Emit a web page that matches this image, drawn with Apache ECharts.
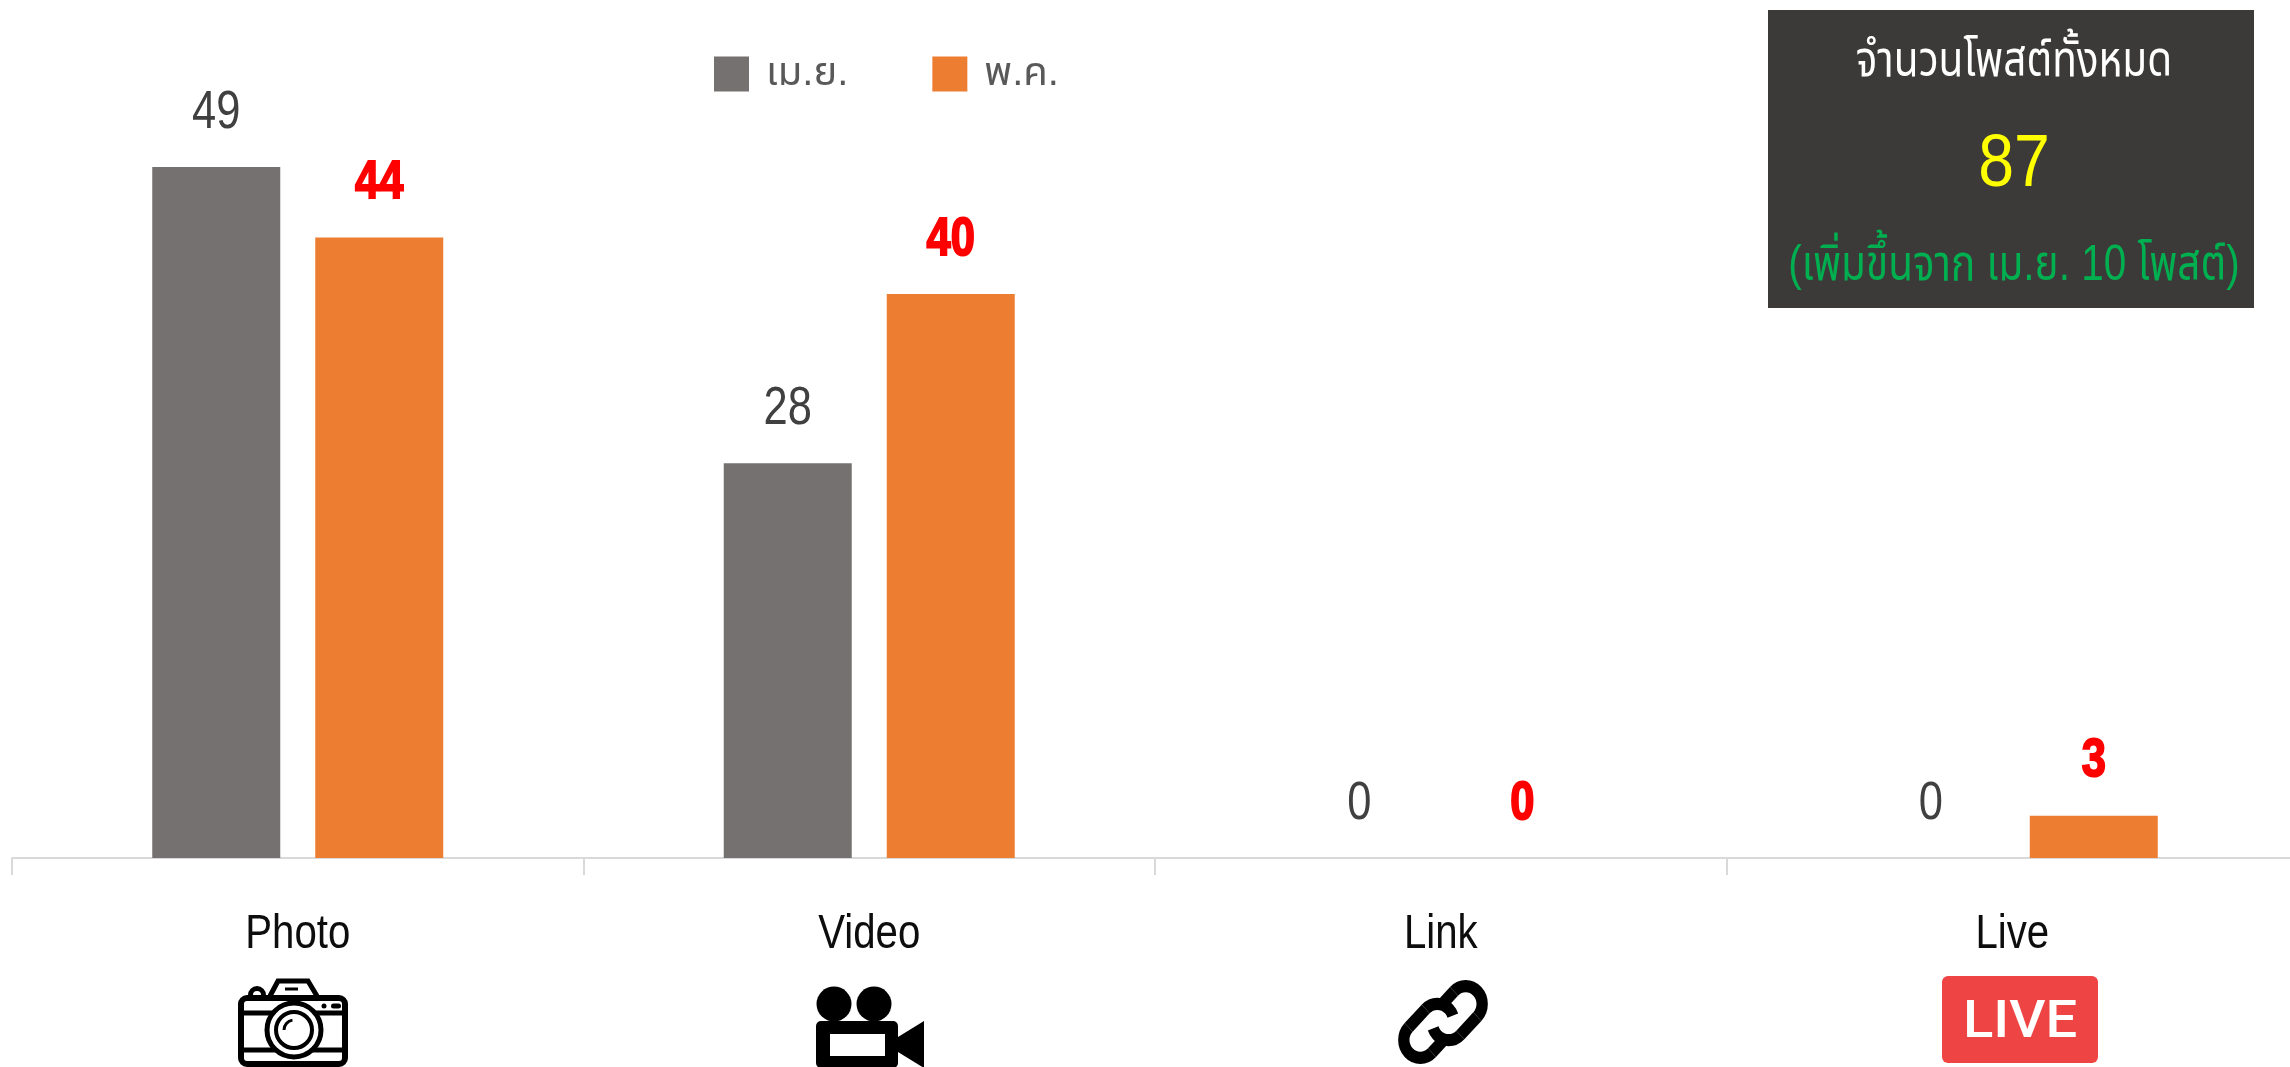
<!DOCTYPE html>
<html><head><meta charset="utf-8">
<style>html,body{margin:0;padding:0;background:#fff}#c{width:2290px;height:1067px}</style>
<script src="https://cdn.jsdelivr.net/npm/echarts@6/dist/echarts.min.js"></script>
</head><body><div id="c"></div>
<script>
const categories = ['Photo','Video','Link','Live'];
const seriesNames = ['เม.ย.','พ.ค.'];
const aprilValues = [49,28,0,0];
const mayValues = [44,40,0,3];
const boxTitle = 'จำนวนโพสต์ทั้งหมด';
const boxTotal = '87';
const boxNote = '(เพิ่มขึ้นจาก เม.ย. 10 โพสต์)';

const LATIN = '"Liberation Sans",Arial,sans-serif';
const THAI = '"Liberation Sans","Noto Sans Thai","Noto Sans",sans-serif';
const NARROW = 0.82;
const S = {stroke:'#000',fill:'none',lineWidth:5};
const deg = Math.PI/180;
function hook(x,y,kx,ky){
  const st = {stroke:'#000',fill:'none',lineWidth:34};
  const t = {x,y,scaleX:kx,scaleY:ky};
  return [
    {type:'line',...t,shape:{x1:178,y1:100,x2:213,y2:65},style:st},
    {type:'arc',...t,shape:{cx:248,cy:100,r:49.5,startAngle:225*deg,endAngle:405*deg,clockwise:true},style:st},
    {type:'line',...t,shape:{x1:283,y1:135,x2:232,y2:186},style:st},
    {type:'arc',...t,shape:{cx:197,cy:151,r:49.5,startAngle:45*deg,endAngle:160*deg,clockwise:true},style:st}
  ];
}
const icons = [
  // camera
  {type:'rect',shape:{x:241,y:998,width:104,height:66,r:6},style:{...S,lineWidth:6}},
  {type:'line',shape:{x1:241,y1:1013,x2:345,y2:1013},style:S},
  {type:'line',shape:{x1:241,y1:1050,x2:345,y2:1050},style:S},
  {type:'polyline',shape:{points:[[270,996],[278,981],[308,981],[317,996]]},style:S},
  {type:'line',shape:{x1:285,y1:989,x2:298,y2:989},style:{...S,lineWidth:3}},
  {type:'arc',shape:{cx:257,cy:995,r:6.5,startAngle:Math.PI,endAngle:Math.PI*2,clockwise:true},style:S},
  {type:'circle',shape:{cx:324,cy:1006,r:2.5},style:{fill:'#000'}},
  {type:'rect',shape:{x:331,y:1003.5,width:10,height:5,r:2.5},style:{fill:'#000'}},
  {type:'circle',shape:{cx:294,cy:1030,r:27},style:{...S,fill:'#fff'}},
  {type:'circle',shape:{cx:294,cy:1030,r:18},style:{...S,lineWidth:4}},
  {type:'arc',shape:{cx:294,cy:1030,r:10,startAngle:Math.PI,endAngle:Math.PI*1.45,clockwise:true},style:{...S,lineWidth:3}},
  // video camera
  {type:'circle',shape:{cx:834,cy:1004,r:17.5},style:{fill:'#000'}},
  {type:'circle',shape:{cx:874,cy:1004,r:17.5},style:{fill:'#000'}},
  {type:'rect',shape:{x:816,y:1021,width:82,height:47,r:5},style:{fill:'#000'}},
  {type:'rect',shape:{x:830,y:1034,width:55,height:22},style:{fill:'#fff'}},
  {type:'polygon',shape:{points:[[898,1037],[924,1021],[924,1068],[898,1052]]},style:{fill:'#000'}},
  // link: two interlocking hooks, the second is the first turned half a circle
  ...hook(1383,968,1/3,0.36),
  ...hook(1503,1076,-1/3,-0.36),
  // live badge
  {type:'rect',shape:{x:1942,y:976,width:156,height:87,r:6},style:{fill:'#ef4444'}},
  {type:'text',x:2020,y:1024,scaleX:1.08,style:{text:'LIVE',fill:'#fff',font:'500 52px Roboto',align:'center',verticalAlign:'middle'}}
];
const box = [
  {type:'rect',shape:{x:1768,y:10,width:486,height:298},style:{fill:'#3b3a38'}},
  {type:'text',x:2014,y:62,scaleX:0.81,style:{text:boxTitle,fill:'#fff',font:'50px '+THAI,align:'center',verticalAlign:'middle'}},
  {type:'text',x:2014,y:166,scaleX:0.87,style:{text:boxTotal,fill:'#ffff00',font:'74px '+LATIN,align:'center',verticalAlign:'middle'}},
  {type:'text',x:2014,y:266,scaleX:0.81,style:{text:boxNote,fill:'#00b050',font:'50px '+THAI,align:'center',verticalAlign:'middle'}}
];
// value labels and category labels: narrowed text placed through the chart's own scales
const BAR_W = 128, BAR_GAP = 35;
function valueLabels(side,color,weight,edge){
  return function(p,api){
    const c = api.coord([api.value(0),api.value(1)]);
    return {type:'text',x:c[0]+side*(BAR_W+BAR_GAP)/2,y:c[1]-54,scaleX:NARROW,silent:true,
      style:{text:String(api.value(1)),fill:color,stroke:edge?color:null,lineWidth:edge,font:weight+' 53px '+LATIN,align:'center',verticalAlign:'middle'}};
  };
}
function categoryLabels(p,api){
  const c = api.coord([api.value(0),0]);
  return {type:'text',x:c[0],y:c[1]+76,scaleX:NARROW,silent:true,
    style:{text:categories[api.value(0)],fill:'#0d0d0d',font:'49px '+LATIN,align:'center',verticalAlign:'middle'}};
}
const chart = echarts.init(document.getElementById('c'),null,{renderer:'canvas'});
chart.setOption({
  animation:false,
  backgroundColor:'#fff',
  grid:{left:12,width:2286,top:12,height:846,outerBoundsMode:'none'},
  legend:{data:seriesNames,left:714,top:54,padding:0,itemWidth:35,itemHeight:35,itemGap:84,icon:'rect',
    textStyle:{fontFamily:THAI,fontSize:40,color:'#595959',padding:[0,0,0,12]}},
  xAxis:{type:'category',data:categories,
    axisLine:{lineStyle:{color:'#d9d9d9',width:2}},
    axisTick:{show:true,length:17,alignWithLabel:false,lineStyle:{color:'#d9d9d9',width:2}},
    axisLabel:{show:false}},
  yAxis:{type:'value',min:0,max:60,show:false,splitLine:{show:false}},
  series:[
    {name:seriesNames[0],type:'bar',data:aprilValues,barWidth:BAR_W,barGap:(BAR_GAP/BAR_W*100)+'%',itemStyle:{color:'#767171'}},
    {name:seriesNames[1],type:'bar',data:mayValues,barWidth:BAR_W,itemStyle:{color:'#ed7d31'}},
    {type:'custom',name:'labelsApr',renderItem:valueLabels(-1,'#404040','normal',0),data:aprilValues.map((v,i)=>[i,v]),encode:{x:0,y:1},clip:false,z:5},
    {type:'custom',name:'labelsMay',renderItem:valueLabels(1,'#ff0000','bold',2),data:mayValues.map((v,i)=>[i,v]),encode:{x:0,y:1},clip:false,z:5},
    {type:'custom',name:'labelsCat',renderItem:categoryLabels,data:categories.map((c,i)=>[i,0]),encode:{x:0,y:1},clip:false,z:5}
  ],
  graphic:{elements:[...icons,...box].map(e=>({...e,silent:true}))}
});
</script></body></html>
